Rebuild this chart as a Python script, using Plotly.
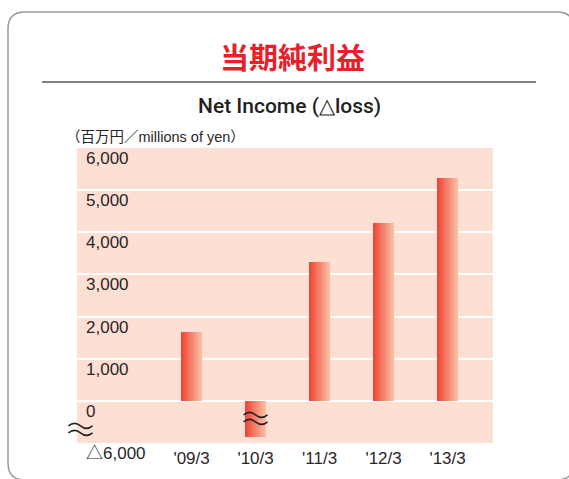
import plotly.graph_objects as go

# Net income, millions of yen (negative = loss, shown with a broken axis)
periods = ["'09/3", "'10/3", "'11/3", "'12/3", "'13/3"]
net_income = [1640, -5120, 3290, 4220, 5280]
y_ticks = [-6000, 0, 1000, 2000, 3000, 4000, 5000, 6000]
y_ticktext = ["△6,000", "0", "1,000", "2,000", "3,000", "4,000", "5,000", "6,000"]

# below zero the axis is broken: -6,000 is drawn one grid step under 0
BREAK = 6


def to_axis(v):
    return v if v >= 0 else v / BREAK


x_pos = list(range(len(periods)))
y_axis = [to_axis(v) for v in net_income]

fig = go.Figure()

# bars with a horizontal gradient, built from thin slices
bar_w = 0.31
n_slices = 20
left_rgb = (238, 68, 52)
right_rgb = (250, 186, 162)
for i in range(n_slices):
    t = i / (n_slices - 1)
    rgb = tuple(round(a + (b - a) * t) for a, b in zip(left_rgb, right_rgb))
    fig.add_trace(go.Bar(
        x=x_pos, y=y_axis,
        width=bar_w / n_slices * 1.05,
        offset=-bar_w / 2 + i * bar_w / n_slices,
        marker=dict(color='rgb(%d,%d,%d)' % rgb, line=dict(width=0)),
        customdata=net_income,
        hovertemplate='%{customdata:,}<extra></extra>',
        showlegend=False))

txt = '#2b2626'
fig.update_layout(
    width=569, height=479,
    margin=dict(l=77, r=76, t=148, b=36),
    paper_bgcolor='white', plot_bgcolor='#fddfd4',
    barmode='overlay', bargap=0,
    font=dict(family='Liberation Sans, Arial, Noto Sans CJK JP', color=txt),
    xaxis=dict(range=[-1.79, 4.71], tickvals=x_pos, ticktext=periods,
               showgrid=False, zeroline=False, showline=False, ticks='',
               tickfont=dict(size=17, color=txt), ticklabelstandoff=3,
               fixedrange=True),
    yaxis=dict(range=[to_axis(-6000), 6000],
               tickvals=[to_axis(v) for v in y_ticks], ticktext=y_ticktext,
               showgrid=True, gridcolor='white', gridwidth=2,
               zeroline=True, zerolinecolor='white', zerolinewidth=2,
               showline=False, ticks='',
               ticklabelposition='inside', ticklabelstandoff=6,
               ticklabelshift=10, ticklabeloverflow='allow',
               tickfont=dict(size=17, color=txt), fixedrange=True),
)

# titles
fig.add_annotation(text='<b>当期純利益</b>', xref='paper', yref='paper',
                   x=0.517, y=1.312, xanchor='center', yanchor='middle', showarrow=False,
                   font=dict(family='Noto Sans CJK JP', size=29, color='#e8202a'))
fig.add_annotation(text='Net Income (△loss)', xref='paper', yref='paper',
                   x=0.512, y=1.142, xanchor='center', yanchor='middle', showarrow=False,
                   font=dict(family='Roboto', size=21, weight=500, color='#231f20'))
fig.add_annotation(text='（百万円／millions of yen）', xref='paper', yref='paper',
                   x=-0.031, y=1.037, xanchor='left', yanchor='middle', showarrow=False,
                   font=dict(family='Liberation Sans, Noto Sans CJK JP', size=14.5, color=txt))

# break marks (two wavy strokes, drawn in pixels around an anchor)
wave = ('M -12,3.5 Q -6,8.5 0,3.5 T 12,3.5 '
        'M -12,-3.5 Q -6,1.5 0,-3.5 T 12,-3.5')
for xr, xa, ya in [('paper', 0.0084, -675), ('x', 1, -415)]:
    fig.add_shape(type='path', path=wave, xref=xr, yref='y',
                  xsizemode='pixel', ysizemode='pixel', xanchor=xa, yanchor=ya,
                  line=dict(color='#222', width=1.6))

# separator line under the heading
fig.add_shape(type='line', xref='paper', yref='paper',
              x0=-0.0841, x1=1.1034, y0=1.2237, y1=1.2237,
              line=dict(color='#808080', width=2))

# rounded frame (its right side runs just past the page edge)
L, R, T, B = -0.1659, 1.1947, 1.461, -0.125
rx, ry = 17 / 416, 17 / 295
frame = (f'M {L},{B + ry} L {L},{T - ry} Q {L},{T} {L + rx},{T} '
         f'L {R - rx},{T} Q {R},{T} {R},{T - ry} L {R},{B + ry} '
         f'Q {R},{B} {R - rx},{B} L {L + rx},{B} Q {L},{B} {L},{B + ry} Z')
fig.add_shape(type='path', path=frame, xref='paper', yref='paper',
              line=dict(color='#9a9a9a', width=1.5))

# the page has a default 8px body margin; drop it so the figure sits at 0,0
fig.write_html("out.html", config={'displayModeBar': False},
               post_script="document.body.style.margin='0';")
